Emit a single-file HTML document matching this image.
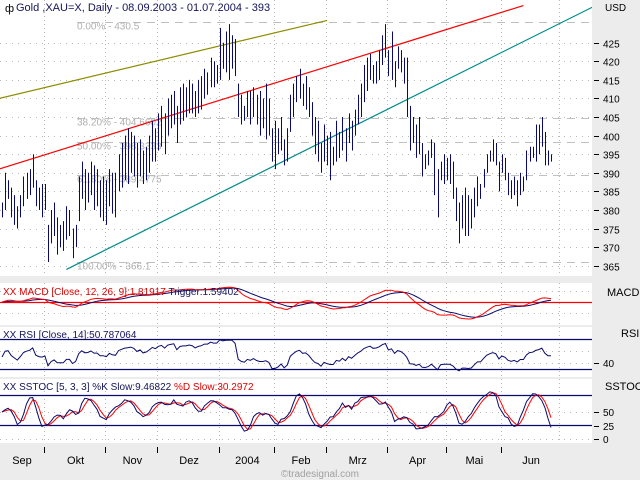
<!DOCTYPE html>
<html><head><meta charset="utf-8"><style>
html,body{margin:0;padding:0;background:#ececec;}
svg{display:block;font-family:"Liberation Sans",sans-serif;}
</style></head><body>
<svg id="chart" width="640" height="480" viewBox="0 0 640 480">
<rect x="0" y="0" width="640" height="480" fill="#ececec"/>
<rect x="0" y="0" width="592" height="276" fill="#fff"/>
<rect x="0" y="283" width="592" height="42" fill="#fff"/>
<rect x="0" y="327" width="592" height="50" fill="#fff"/>
<rect x="0" y="379" width="592" height="64" fill="#fff"/>
<g id="grid"></g>
<g id="marks"></g>
<g id="labels">
<text x="5" y="12" font-size="11" fill="#000">ф</text>
<text x="16" y="11" font-size="11" fill="#14145a">Gold ,XAU=X, Daily - 08.09.2003 - 01.07.2004 - 393</text>
<text x="605" y="11" font-size="10" fill="#000">USD</text>
<text x="607" y="296" font-size="11" fill="#000">MACD</text>
<text x="621" y="337" font-size="11" fill="#000">RSI</text>
<text x="605" y="390" font-size="11" fill="#000">SSTOC</text>
<text x="3" y="295" font-size="10" fill="#e00000">XX MACD [Close, 12, 26, 9]:1.81917 <tspan fill="#14145a">Trigger:1.59402</tspan></text>
<text x="3" y="338" font-size="10" fill="#14145a">XX RSI [Close, 14]:50.787064</text>
<text x="3" y="390" font-size="10" fill="#14145a">XX SSTOC [5, 3, 3] %K Slow:9.46822 <tspan fill="#e00000">%D Slow:30.2972</tspan></text>
<text x="320" y="477" font-size="10" fill="#a0a0a0" text-anchor="middle">©tradesignal.com</text>
</g>
</svg>
<script>
const hi=[382,390,388,386,384,381,384,389,390,391,395,388,386,387,387,376,380,382,378,376,377,381,380,375,376,389,393,391,390,393,392,391,388,389,388,391,390,390,395,398,400,402,401,400,398,399,396,397,400,404,402,406,408,406,410,411,412,408,413,414,413,415,414,412,415,416,418,417,421,420,419,429,425,428,430,427,426,414,411,408,412,412,413,411,412,410,414,410,402,404,402,405,399,402,411,414,416,418,414,416,413,409,405,404,398,403,400,401,397,404,401,405,402,406,404,407,411,414,419,421,422,419,420,423,427,430,423,428,420,424,423,421,421,408,405,403,405,398,395,396,399,398,391,393,395,394,395,393,386,382,384,386,384,383,386,389,387,391,395,396,399,398,393,395,394,390,388,389,388,390,389,396,397,397,403,403,405,401,396,395];
const lo=[378,380,383,378,376,375,378,381,383,384,386,381,380,378,380,366,371,373,368,370,369,372,373,367,370,377,383,380,382,384,380,381,378,377,376,381,379,378,385,386,388,387,390,389,386,389,387,388,390,393,393,396,397,395,400,402,403,398,403,404,405,406,406,405,406,407,410,411,413,413,414,415,418,417,415,418,416,405,403,404,405,403,405,403,400,402,399,400,393,391,395,396,392,393,401,405,409,410,408,407,405,400,395,393,390,393,392,388,392,393,394,396,393,398,396,400,403,405,409,412,415,414,414,415,419,421,416,415,413,418,417,414,405,396,398,394,395,389,391,392,394,384,378,388,387,388,387,383,377,371,375,373,373,375,378,381,383,386,390,393,393,392,385,390,388,384,383,384,381,384,385,388,393,394,393,395,397,392,392,393];
const priceTicks=[365,370,375,380,385,390,395,400,405,410,415,420,425];
const monthLabels=["Sep","Okt","Nov","Dez","2004","Feb","Mrz","Apr","Mai","Jun"];
const monthStartIdx=[14,34,51,71,89,106,126,145,163,182];
const fibLevels=[430.5,404.6602,398.3333,389.4775,366.1];
const fibLabels=["0.00% - 430.5","38.20% - 404.6602","50.00% - 398.3333","61.80% - 389.4775","100.00% - 366.1"];
const trendOlive=[[-1,410],[106,431]];
const trendRed=[[-1,391],[170,435]];
const trendTeal=[[21,364],[196,436]];

const NS="http://www.w3.org/2000/svg";
const n=Math.min(hi.length,lo.length);
const X0=2,X1=551;
const xs=i=>X0+i*(X1-X0)/(n-1);
const yP=p=>42.7+(425-p)*3.717;
const grid=document.getElementById('grid'),marks=document.getElementById('marks');
function mk(tag,at,parent){const e=document.createElementNS(NS,tag);for(const k in at)e.setAttribute(k,at[k]);parent.appendChild(e);return e;}

monthStartIdx.forEach((mi,k)=>{
  const x=Math.round(Math.min(xs(mi),591))-0.5;
  [[0,276],[283,325],[327,377],[379,443]].forEach(r=>{
    const l=mk('line',{x1:x,x2:x,y1:r[0],y2:r[1],stroke:'#b8b8b8','stroke-dasharray':'1,3'},grid);
    
    
  });
  if(k>0){
    const px=Math.round(xs(monthStartIdx[k-1]))-0.5;
    const t=mk('line',{x1:px,x2:px,y1:447,y2:453,stroke:'#000'},grid);
    
    
  }
  const xa=k==0?22:(xs(monthStartIdx[k-1])+xs(mi))/2;
  const lb=mk('text',{x:xa,y:464,'font-size':11,'text-anchor':'middle',fill:'#000'},grid);
  lb.textContent=monthLabels[k];
  
  
});
priceTicks.forEach(p=>{
  const y=Math.round(yP(p))+0.5;
  const g=mk('line',{x1:0,x2:592,y1:y,y2:y,stroke:'#b8b8b8','stroke-dasharray':'1,5'},grid);
  
  
  const t=mk('line',{x1:594,x2:599,y1:y,y2:y,stroke:'#000'},grid);
  
  
  const lb=mk('text',{x:603,y:y+4,'font-size':10,fill:'#000'},grid);
  lb.textContent=p;
  
  
});
fibLevels.forEach((f,k)=>{
  const y=Math.round(yP(f))+0.5;
  const l=mk('line',{x1:77,x2:592,y1:y,y2:y,stroke:'#c0c0c0','stroke-dasharray':'8,6'},grid);
  
  
  const t=mk('text',{x:77,y:y+7,'font-size':10,fill:'#b0b0b0'},grid);
  t.textContent=fibLabels[k];
  
  
});
const defs=mk('defs',{},marks);
const cp=mk('clipPath',{id:'cpMain'},defs);mk('rect',{x:0,y:0,width:592,height:276},cp);
[[trendOlive,'#8c8c00','trendline-olive'],[trendRed,'#ff0000','trendline-red'],[trendTeal,'#008c8c','trendline-teal']].forEach(([t,c,nm])=>{
  const l=mk('line',{x1:xs(t[0][0]),y1:yP(t[0][1]),x2:xs(t[1][0]),y2:yP(t[1][1]),stroke:c,'stroke-width':1.2,'clip-path':'url(#cpMain)'},marks);
  
  
});
for(let i=0;i<n;i++){
  const x=Math.round(xs(i))+0.5;
  const b=mk('line',{x1:x,x2:x,y1:yP(hi[i]),y2:yP(lo[i]),stroke:'#0a0a6e','stroke-width':1},marks);
  
  
}
const close=hi.slice(0,n).map((h,i)=>(h+lo[i])/2);
function ema(a,p){const k=2/(p+1);const o=[a[0]];for(let i=1;i<a.length;i++)o.push(a[i]*k+o[i-1]*(1-k));return o;}
const e12=ema(close,12),e26=ema(close,26);
const macd=close.map((_,i)=>e12[i]-e26[i]);
const trig=ema(macd,9);
let ag=0.8,al=0.8;const rsi=[50];
for(let i=1;i<n;i++){const d=close[i]-close[i-1];const g=Math.max(d,0),l=Math.max(-d,0);
  ag=(ag*13+g)/14;al=(al*13+l)/14;
  rsi.push(al===0?100:100-100/(1+ag/al));}
const rawK=close.map((c,i)=>{const s=Math.max(0,i-4);const H=Math.max(...hi.slice(s,i+1)),L=Math.min(...lo.slice(s,i+1));return H===L?50:100*(c-L)/(H-L);});
const sma=(a,p)=>a.map((_,i)=>{const s=Math.max(0,i-p+1);const w=a.slice(s,i+1);return w.reduce((x,y)=>x+y,0)/w.length;});
const slowK=sma(rawK,3),slowD=sma(slowK,3);
const mmax=Math.max(...macd.map(Math.abs),...trig.map(Math.abs));
const km=17/mmax;
const yM=v=>302-v*km, yR=v=>369-(v-30)*0.6, yS=v=>439.5-v*0.55;
function hline(y,c,dash,nm){const l=mk('line',{x1:0,x2:592,y1:y,y2:y,stroke:c,'stroke-width':dash?1:1.3,'stroke-dasharray':dash||'none'},marks);}
hline(291.5,'#b8b8b8','1,5','macd-gridline');hline(313.5,'#b8b8b8','1,5','macd-gridline');
hline(302.5,'#ff0000',null,'macd-zero-line');
hline(351.5,'#b8b8b8','1,5','rsi-gridline');hline(363.5,'#b8b8b8','1,5','rsi-gridline');
hline(339.5,'#0a0a6e',null,'rsi-upper-band');hline(369.5,'#0a0a6e',null,'rsi-lower-band');
hline(412.5,'#b8b8b8','1,5','sstoc-gridline');hline(439.5,'#b8b8b8','1,5','sstoc-gridline');
hline(395.5,'#0a0a6e',null,'sstoc-upper-band');hline(425.5,'#0a0a6e',null,'sstoc-lower-band');
[[412,'50'],[426,'25'],[439,'0']].forEach(([y,t])=>{const tk=mk('line',{x1:594,x2:599,y1:y+0.5,y2:y+0.5,stroke:'#000'},marks);const lb=mk('text',{x:603,y:y+4,'font-size':10,fill:'#000'},marks);lb.textContent=t;});
{const tk=mk('line',{x1:594,x2:599,y1:363.5,y2:363.5,stroke:'#000'},marks);const lb=mk('text',{x:603,y:367,'font-size':10,fill:'#000'},marks);lb.textContent='40';}
function poly(a,yf,c,nm){const p=mk('polyline',{points:a.map((v,i)=>xs(i).toFixed(1)+','+yf(v).toFixed(1)).join(' '),fill:'none',stroke:c,'stroke-width':1},marks);}
poly(trig,yM,'#0a0a6e','macd-trigger-line');
poly(macd,yM,'#ff0000','macd-line');
poly(rsi,yR,'#0a0a6e','rsi-line');
poly(slowD,yS,'#ff0000','sstoc-d-line');
poly(slowK,yS,'#0a0a6e','sstoc-k-line');
</script>
</body></html>
